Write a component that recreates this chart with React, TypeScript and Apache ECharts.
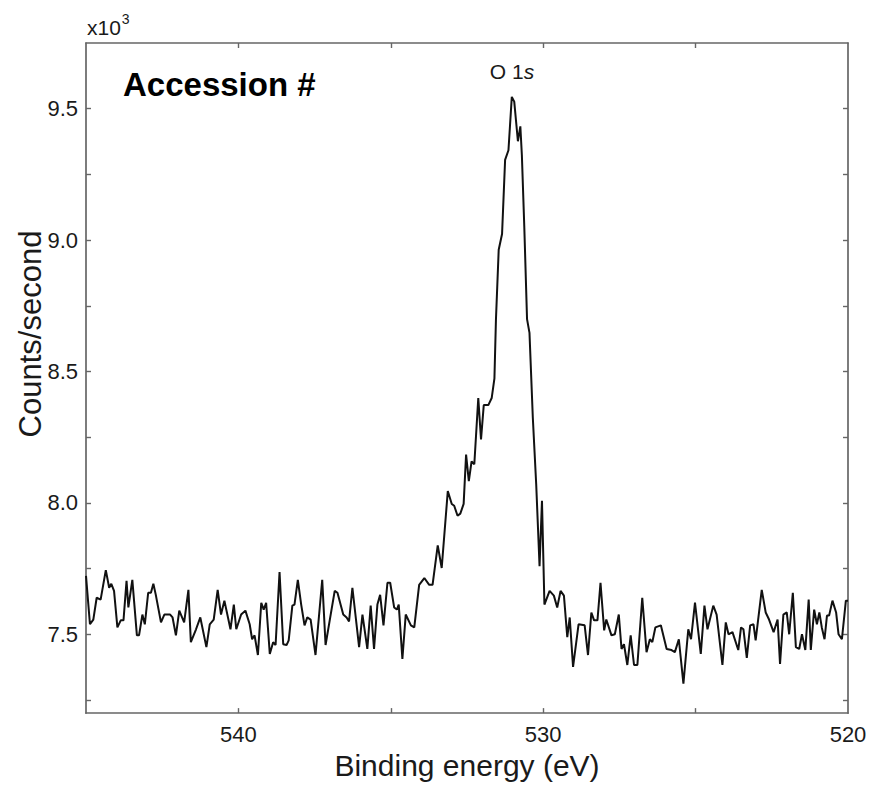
import React, { useEffect, useRef } from "react";
import * as echarts from "echarts";

// Binding energy (eV) of each vertex of the O 1s spectrum
const energy: number[] = [
  545.0, 544.87, 544.76, 544.65, 544.52, 544.35, 544.24, 544.17, 544.08, 543.97,
  543.86, 543.77, 543.67, 543.61, 543.48, 543.33, 543.26, 543.15, 543.07, 542.96,
  542.87, 542.79, 542.71, 542.54, 542.43, 542.24, 542.16, 542.05, 541.94, 541.78,
  541.64, 541.56, 541.39, 541.25,
  541.05, 540.94, 540.81, 540.68, 540.57, 540.46, 540.26, 540.15, 540.07, 539.91,
  539.77, 539.63, 539.55, 539.47, 539.36, 539.25, 539.17, 539.09, 538.97, 538.86,
  538.78, 538.65, 538.53, 538.42, 538.35, 538.23, 538.16, 538.05, 537.94, 537.83,
  537.74, 537.63, 537.47,
  537.25, 537.14, 537.0, 536.84, 536.75, 536.56, 536.45, 536.37, 536.26, 536.04,
  535.93, 535.77, 535.66, 535.55, 535.44, 535.35, 535.24, 535.11, 535.02, 534.89,
  534.8, 534.74, 534.62, 534.51, 534.34, 534.23,
  534.07, 533.9, 533.74, 533.63, 533.46, 533.33, 533.13, 533.0, 532.92, 532.81,
  532.72, 532.61, 532.53, 532.44, 532.35, 532.26, 532.13, 532.04, 531.95, 531.8,
  531.69, 531.6, 531.55, 531.46, 531.35, 531.25, 531.14, 531.03, 530.95, 530.83,
  530.75, 530.7, 530.62, 530.53, 530.45, 530.34, 530.23, 530.12, 530.04, 529.96,
  529.79, 529.65, 529.54, 529.43, 529.32, 529.21, 529.13, 529.02, 528.84, 528.64,
  528.53, 528.42, 528.33, 528.22, 528.12, 528.0, 527.93, 527.76, 527.65, 527.52,
  527.43, 527.35, 527.24, 527.13, 527.02, 526.91, 526.75, 526.61, 526.5, 526.42,
  526.32, 526.14, 525.95, 525.79, 525.68, 525.55, 525.4, 525.24, 525.15, 525.02,
  524.83, 524.71, 524.61, 524.42, 524.31, 524.12, 524.01, 523.92, 523.79, 523.6,
  523.51, 523.43, 523.32, 523.21, 523.1, 523.03, 522.83, 522.7, 522.59, 522.44,
  522.31, 522.23, 522.12, 522.01, 521.93, 521.81, 521.71, 521.6, 521.51, 521.4,
  521.29, 521.22, 521.11, 521.02, 520.94, 520.86, 520.77, 520.69, 520.62, 520.51,
  520.39, 520.31, 520.2, 520.07, 520.0,
];

// Counts/second at each vertex
const counts: number[] = [
  7722, 7538, 7556, 7639, 7632, 7744, 7677, 7692, 7665, 7526,
  7553, 7553, 7703, 7602, 7707, 7496, 7496, 7575, 7538, 7658,
  7658, 7692, 7650, 7545, 7575, 7575, 7564, 7496, 7590, 7545,
  7669, 7470, 7519, 7564,
  7451, 7538, 7556, 7669, 7575, 7628, 7519, 7613, 7519, 7575,
  7590, 7538, 7481, 7496, 7421, 7620, 7594, 7620, 7425, 7470,
  7459, 7737, 7462, 7459, 7477, 7609, 7613, 7707, 7613, 7534,
  7564, 7556, 7421,
  7707, 7459, 7556, 7665, 7658, 7575, 7564, 7549, 7677, 7451,
  7575, 7444, 7609, 7444, 7613, 7650, 7534, 7696, 7696, 7602,
  7594, 7613, 7406, 7575, 7534, 7526,
  7688, 7714, 7688, 7688, 7838, 7752, 8045, 7996, 7989, 7951,
  7959, 7996, 8184, 8083, 8158, 8147, 8399, 8241, 8372, 8372,
  8399, 8474, 8699, 8963, 9023, 9305, 9342, 9545, 9527, 9376,
  9433, 9324, 9049, 8699, 8647, 8323, 8072, 7759, 8008, 7613,
  7665, 7647, 7602, 7665, 7647, 7489, 7564, 7376, 7538, 7534,
  7421, 7583, 7553, 7553, 7696, 7515, 7556, 7496, 7500, 7575,
  7444, 7462, 7383, 7496, 7383, 7383, 7639, 7432, 7481, 7470,
  7526, 7534, 7444, 7440, 7432, 7481, 7312, 7519, 7481, 7620,
  7425, 7609, 7519, 7609, 7575, 7383, 7545, 7500, 7508, 7440,
  7526, 7519, 7410, 7534, 7538, 7477, 7669, 7583, 7556, 7508,
  7556, 7387, 7575, 7583, 7500, 7658, 7451, 7444, 7500, 7440,
  7632, 7440, 7594, 7538, 7583, 7526, 7481, 7571, 7571, 7628,
  7583, 7500, 7481, 7628, 7628,
];

const xLabelValues: number[] = [520, 530, 540];
const xTickValues: number[] = [525, 530, 535, 540];
const yLabelValues: number[] = [7500, 8000, 8500, 9000, 9500];
const yTickValues: number[] = [7250, 7500, 7750, 8000, 8250, 8500, 8750, 9000, 9250, 9500];

const FONT = "'Liberation Sans', Arial, Helvetica, sans-serif";
const AXIS_COLOR = "#666666";
const TEXT_COLOR = "#1a1a1a";

export default function App() {
  const ref = useRef<HTMLDivElement>(null);

  useEffect(() => {
    document.body.style.margin = "0";
    if (!ref.current) return;
    const chart = echarts.init(ref.current, undefined, { renderer: "svg" });
    const n = Math.min(energy.length, counts.length);
    const data: [number, number][] = [];
    for (let i = 0; i < n; i++) data.push([energy[i], counts[i]]);

    const axisLine = { show: true, lineStyle: { color: AXIS_COLOR, width: 1.7 } };
    const tickStyle = { color: AXIS_COLOR, width: 1.4 };

    const option: any = {
      animation: false,
      backgroundColor: "#ffffff",
      grid: { left: 86, top: 43, right: 23, bottom: 65, containLabel: false },
      xAxis: [
        {
          type: "value",
          min: 520,
          max: 545,
          inverse: true,
          position: "bottom",
          axisLine,
          axisTick: { show: true, inside: true, length: 5, customValues: xTickValues, lineStyle: tickStyle },
          axisLabel: {
            show: true,
            customValues: xLabelValues,
            fontSize: 22,
            fontFamily: FONT,
            color: TEXT_COLOR,
            margin: 10,
          },
          splitLine: { show: false },
          name: "Binding energy (eV)",
          nameLocation: "middle",
          nameGap: 33,
          nameTextStyle: { fontSize: 30, fontFamily: FONT, color: TEXT_COLOR, verticalAlign: "top" },
        },
        {
          type: "value",
          min: 520,
          max: 545,
          inverse: true,
          position: "top",
          axisLine,
          axisTick: { show: true, inside: true, length: 5, customValues: xTickValues, lineStyle: tickStyle },
          axisLabel: { show: false },
          splitLine: { show: false },
        },
      ],
      yAxis: [
        {
          type: "value",
          min: 7200,
          max: 9750,
          position: "left",
          axisLine,
          axisTick: { show: true, inside: true, length: 5, customValues: yTickValues, lineStyle: tickStyle },
          axisLabel: {
            show: true,
            customValues: yLabelValues,
            formatter: (v: number) => (v / 1000).toFixed(1),
            fontSize: 22,
            fontFamily: FONT,
            color: TEXT_COLOR,
            margin: 8,
          },
          splitLine: { show: false },
        },
        {
          type: "value",
          min: 7200,
          max: 9750,
          position: "right",
          axisLine,
          axisTick: { show: true, inside: true, length: 5, customValues: yTickValues, lineStyle: tickStyle },
          axisLabel: { show: false },
          splitLine: { show: false },
        },
      ],
      series: [
        {
          type: "line",
          xAxisIndex: 0,
          yAxisIndex: 0,
          data,
          showSymbol: false,
          symbol: "none",
          lineStyle: { color: "#111111", width: 2 },
          z: 3,
        },
      ],
      graphic: [
        {
          type: "text",
          x: 30,
          y: 334,
          rotation: Math.PI / 2,
          style: {
            text: "Counts/second",
            fontSize: 31,
            fontFamily: FONT,
            fill: TEXT_COLOR,
            align: "center",
            verticalAlign: "middle",
          },
        },
        {
          type: "text",
          x: 87,
          y: 10,
          style: {
            text: "{a|x10}{b|3}",
            fontFamily: FONT,
            fill: TEXT_COLOR,
            rich: {
              a: { fontSize: 21, fontFamily: FONT, fill: TEXT_COLOR, lineHeight: 28, verticalAlign: "bottom" },
              b: { fontSize: 14, fontFamily: FONT, fill: TEXT_COLOR, lineHeight: 28, verticalAlign: "top", padding: [2, 0, 0, 1] },
            },
          },
        },
        {
          type: "text",
          x: 123,
          y: 84,
          style: {
            text: "Accession #",
            fontSize: 33,
            fontWeight: "bold",
            fontFamily: FONT,
            fill: "#000000",
            align: "left",
            verticalAlign: "middle",
          },
        },
        {
          type: "text",
          x: 512,
          y: 71,
          style: {
            text: "{n|O 1}{i|s}",
            align: "center",
            verticalAlign: "middle",
            rich: {
              n: { fontSize: 21, fontFamily: FONT, fill: TEXT_COLOR },
              i: { fontSize: 21, fontFamily: FONT, fill: TEXT_COLOR, fontStyle: "italic" },
            },
          },
        },
      ],
    };
    chart.setOption(option);
    return () => chart.dispose();
  }, []);

  return <div ref={ref} style={{ width: 871, height: 785 }} />;
}
